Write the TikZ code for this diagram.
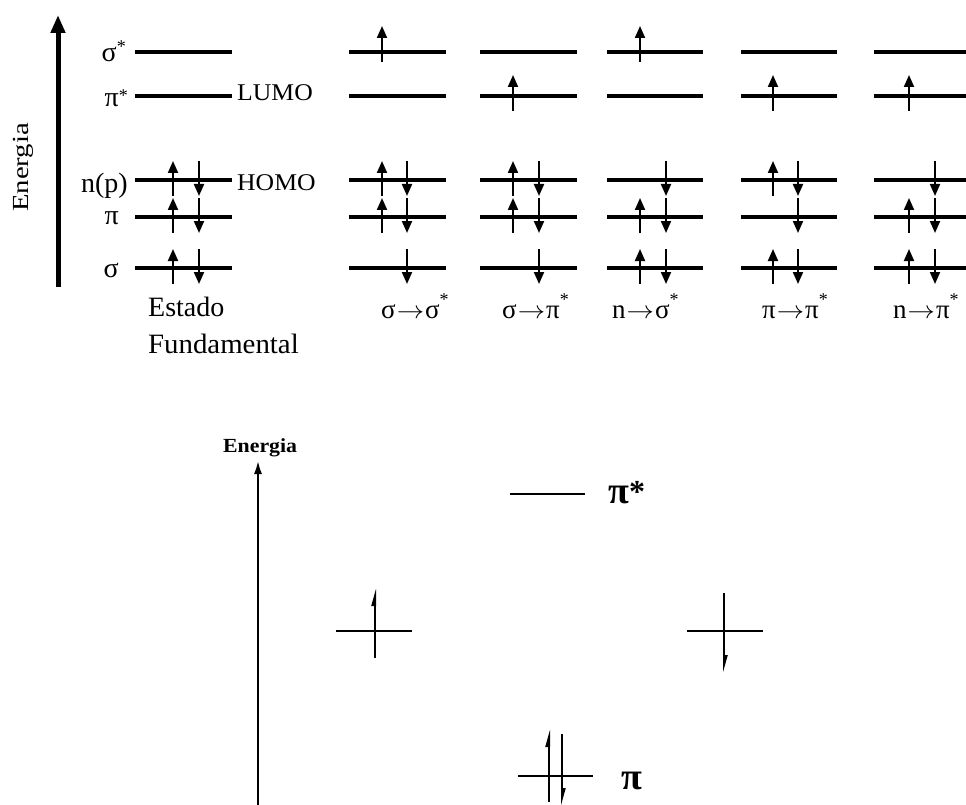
\documentclass[tikz,border=0pt]{standalone}
\usepackage{fontspec}
\setmainfont{Liberation Serif}
\usetikzlibrary{arrows.meta}
\newcommand{\eUp}[2]{\draw[elec] ({#1},{#2+16}) -- ({#1},{#2-19});}
\newcommand{\eDn}[2]{\draw[elec] ({#1},{#2-19}) -- ({#1},{#2+16});}
\newcommand{\eSS}[1]{\draw[elec] ({#1},62) -- ({#1},26);}
\newcommand{\ePS}[1]{\draw[elec] ({#1},111) -- ({#1},75);}
\newcommand{\myast}[2]{\raisebox{#1}{\fontsize{#2}{#2}\selectfont *}}
\newcommand{\myarr}{\kern1pt\scalebox{1.1}[1]{$\rightarrow$}\kern1pt}
\begin{document}
\begin{tikzpicture}[x=1pt,y=-1pt,
  lvl/.style={line width=4.5pt},
  elec/.style={line width=2pt,-{Triangle[width=10pt,length=12pt]}},
  thin/.style={line width=2pt},
  harp/.style={line width=2pt,-{Triangle[left,width=7pt,length=14pt]}},
  lbl/.style={inner sep=0pt,font=\fontsize{28}{30}\selectfont},
  side/.style={inner sep=0pt,font=\fontsize{24}{26}\selectfont},
  trans/.style={inner sep=0pt,font=\fontsize{27}{29}\selectfont,anchor=base west},
  big/.style={inner sep=0pt,font=\fontsize{38}{40}\selectfont\bfseries,anchor=base west}]
\useasboundingbox (0,0) rectangle (966,805);
% ---------- upper diagram ----------
\draw[line width=5pt,-{Triangle[width=14pt,length=18pt]}] (58,287) -- (58,15);
\node[rotate=90,anchor=base west,inner sep=0pt,font=\fontsize{23}{25}\selectfont] (en1) at (28,212) {\scalebox{1.25}[1]{Energia}};
% ground state levels
\foreach \y in {52,96,180,217,268} \draw[lvl] (135,\y) -- (232,\y);
\node[lbl,anchor=base east] (lss) at (126,62) {σ\myast{9pt}{18}};
\node[lbl,anchor=base east] (lps) at (128,107) {π\myast{5pt}{18}};
\node[lbl,anchor=base east] (ln) at (128,193) {n(p)};
\node[lbl,anchor=base east] (lp) at (119,225) {π};
\node[lbl,anchor=base east] (ls) at (119,277) {σ};
\node[side,anchor=base west] (lumo) at (237,101) {\scalebox{1.07}[1]{LUMO}};
\node[side,anchor=base west] (homo) at (237,190) {\scalebox{1.07}[1]{HOMO}};
\eUp{173}{180}\eDn{199}{180}
\eUp{173}{217}\eDn{199}{217}
\eUp{173}{268}\eDn{199}{268}
\node[lbl,anchor=base west] (est) at (148,316) {Estado};
\node[lbl,anchor=base west] (fund) at (148,353) {\scalebox{1.03}[1]{Fundamental}};
% excited columns
\foreach \a/\b in {349/446,480/577,607/703,741/837,874/966}
  \foreach \y in {52,96,180,217,268} \draw[lvl] (\a,\y) -- (\b,\y);
% col 1: sigma -> sigma*
\eSS{382}
\eUp{382}{180}\eDn{407}{180}
\eUp{382}{217}\eDn{407}{217}
\eDn{407}{268}
% col 2: sigma -> pi*
\ePS{513}
\eUp{513}{180}\eDn{539}{180}
\eUp{513}{217}\eDn{539}{217}
\eDn{539}{268}
% col 3: n -> sigma*
\eSS{640}
\eDn{666}{180}
\eUp{640}{217}\eDn{666}{217}
\eUp{640}{268}\eDn{666}{268}
% col 4: pi -> pi*
\ePS{773}
\eUp{773}{180}\eDn{798}{180}
\eDn{798}{217}
\eUp{773}{268}\eDn{798}{268}
% col 5: n -> pi*
\ePS{909}
\eDn{935}{180}
\eUp{909}{217}\eDn{935}{217}
\eUp{909}{268}\eDn{935}{268}
% transition labels
\node[trans] (t1) at (381,318) {σ\myarr σ\myast{13pt}{18}};
\node[trans] (t2) at (502,318) {σ\myarr π\myast{13pt}{18}};
\node[trans] (t3) at (612,318) {n\myarr σ\myast{13pt}{18}};
\node[trans] (t4) at (762,318) {π\myarr π\myast{13pt}{18}};
\node[trans] (t5) at (893,318) {n\myarr π\myast{13pt}{18}};
% ---------- lower diagram ----------
\node[inner sep=0pt,anchor=base west,font=\fontsize{20}{22}\selectfont\bfseries] (en2) at (223,452) {\scalebox{1.09}[1]{Energia}};
\draw[line width=2.5pt,-{Latex[width=8pt,length=14pt]}] (258,805) -- (258,460);
% pi*
\draw[thin] (510,494) -- (585,494);
\node[big] (pistar) at (608,503) {π\raisebox{1pt}{\fontsize{32}{32}\selectfont *}};
% left cross
\draw[thin] (336,631) -- (412,631);
\draw[harp] (375,658) -- (375,588);
% right cross
\draw[thin] (687,631) -- (763,631);
\draw[harp] (724,593) -- (724,673);
% bottom pi
\draw[thin] (518,776) -- (593,776);
\draw[harp] (549,802) -- (549,729);
\draw[harp] (562,734) -- (562,806);
\node[big] (pi) at (621,789) {π};
\end{tikzpicture}
\end{document}
